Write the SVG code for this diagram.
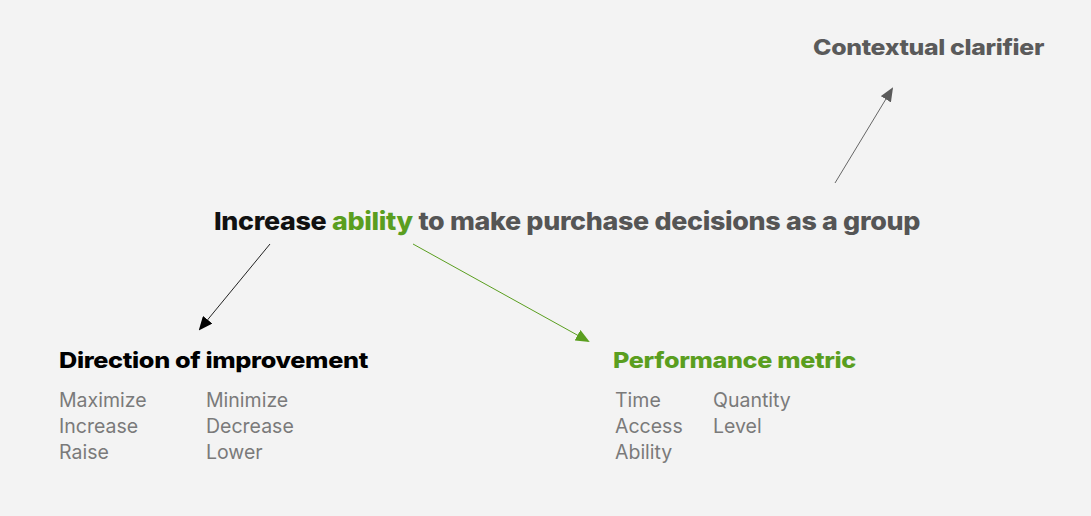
<svg xmlns="http://www.w3.org/2000/svg" width="1091" height="516" viewBox="0 0 1091 516">
<style>
.head{font-family:Inter,"Liberation Sans",sans-serif;font-weight:800;letter-spacing:-0.3px}
.item{font-family:Inter,"Liberation Sans",Arial,sans-serif;font-size:19.5px;fill:#7a7a7a}
.grn{fill:#5a9e1f}
</style>
<defs>
<marker id="ab" markerWidth="14" markerHeight="12" refX="12" refY="6" orient="auto" markerUnits="userSpaceOnUse"><path d="M0,0 L14,6 L0,12 z" fill="#000"/></marker>
<marker id="ag" markerWidth="14" markerHeight="12" refX="12" refY="6" orient="auto" markerUnits="userSpaceOnUse"><path d="M0,0 L14,6 L0,12 z" fill="#5a9e1f"/></marker>
<marker id="ay" markerWidth="14" markerHeight="12" refX="12" refY="6" orient="auto" markerUnits="userSpaceOnUse"><path d="M0,0 L14,6 L0,12 z" fill="#5a5a5a"/></marker>
</defs>
<rect width="1091" height="516" fill="#f3f3f3"/>
<g id="connectors" fill="none">
<line x1="270" y1="244" x2="200" y2="329" stroke="#222" stroke-width="1" marker-end="url(#ab)"/>
<line x1="413" y1="244" x2="588" y2="341" stroke="#5a9e1f" stroke-width="1" marker-end="url(#ag)"/>
<line x1="835" y1="183" x2="892" y2="89" stroke="#666" stroke-width="1" marker-end="url(#ay)"/>
</g>
<g id="main">
<text class="head" x="214" y="230" font-size="25" textLength="706" lengthAdjust="spacingAndGlyphs"><tspan fill="#111">Increase </tspan><tspan class="grn">ability</tspan><tspan fill="#555"> to make purchase decisions as a group</tspan></text>
</g>
<g id="clarifier">
<text class="head" x="813" y="55" font-size="22" fill="#5a5a5a" textLength="231" lengthAdjust="spacingAndGlyphs">Contextual clarifier</text>
</g>
<g id="direction">
<text class="head" x="59" y="368" font-size="22" fill="#000" textLength="309" lengthAdjust="spacingAndGlyphs">Direction of improvement</text>
<text class="item" x="59" y="407">Maximize</text>
<text class="item" x="59" y="433">Increase</text>
<text class="item" x="59" y="459">Raise</text>
<text class="item" x="206" y="407">Minimize</text>
<text class="item" x="206" y="433">Decrease</text>
<text class="item" x="206" y="459">Lower</text>
</g>
<g id="metric">
<text class="head grn" x="613" y="368" font-size="22" textLength="243" lengthAdjust="spacingAndGlyphs">Performance metric</text>
<text class="item" x="615" y="407">Time</text>
<text class="item" x="615" y="433">Access</text>
<text class="item" x="615" y="459">Ability</text>
<text class="item" x="713" y="407">Quantity</text>
<text class="item" x="713" y="433">Level</text>
</g>
</svg>
